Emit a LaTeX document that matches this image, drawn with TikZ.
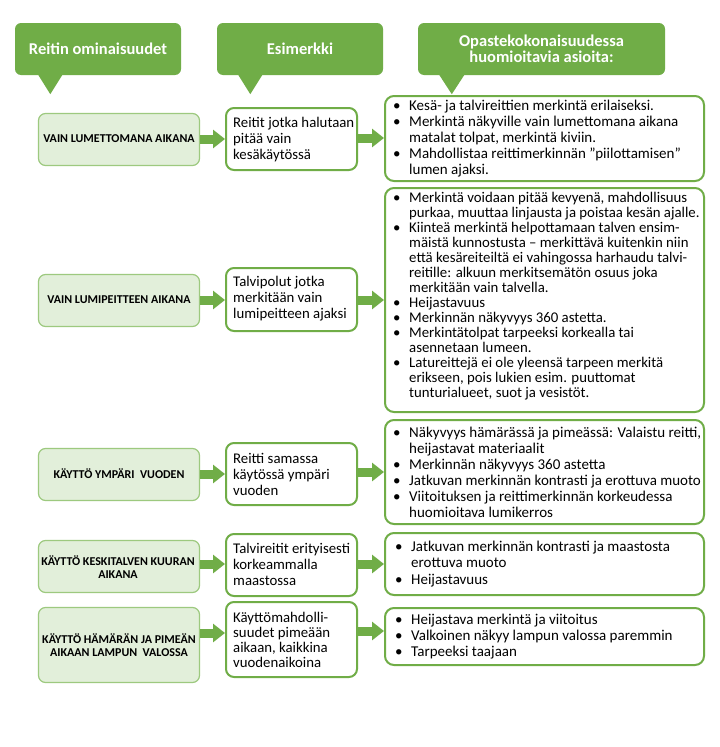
\documentclass[tikz,border=0pt]{standalone}
\usepackage{fontspec}
\setmainfont{Carlito}
\usetikzlibrary{arrows.meta}
\definecolor{hgreen}{HTML}{70AD47}
\definecolor{lfill}{HTML}{E2EFDA}
\definecolor{lborder}{HTML}{9DC97F}
\newcommand{\mybul}{\makebox[16pt][l]{\textbullet}}
\newcommand{\myind}{\hspace*{16pt}}
\begin{document}
\begin{tikzpicture}[x=1pt,y=-1pt,
  header/.style={rectangle, rounded corners=6pt, fill=hgreen, draw=none, text=white,
    font=\bfseries\fontsize{16.5}{16}\selectfont, align=center, inner sep=0pt, minimum height=52pt},
  pointer/.style={fill=hgreen},
  leftbox/.style={rectangle, rounded corners=7pt, fill=lfill, draw=lborder, line width=1.2pt,
    minimum width=161pt, inner sep=0pt},
  midbox/.style={rectangle, rounded corners=8pt, fill=white, draw=hgreen, line width=2pt,
    minimum width=131pt, inner sep=0pt},
  rightbox/.style={rectangle, rounded corners=9pt, fill=white, draw=hgreen, line width=2pt,
    minimum width=319pt, inner sep=0pt},
  lefttext/.style={font=\bfseries\fontsize{12}{12.5}\selectfont, align=center, inner sep=0pt},
  midtext/.style={font=\fontsize{14.8}{16}\selectfont, align=left, anchor=west, inner sep=0pt},
  bultext/.style={font=\fontsize{15}{16}\selectfont, align=left, anchor=west, inner sep=0pt},
  blockarrow/.style={draw=hgreen, line width=9pt, -{Triangle[length=12pt,width=18pt]}}
]
\fill[white] (0,0) rectangle (720,747);
\useasboundingbox (0,0) rectangle (720,747);

% headers
\node[header, minimum width=166pt] (h1) at (98,49) {Reitin ominaisuudet};
\node[header, minimum width=166pt] (h2) at (300,49) {Esimerkki};
\node[header, minimum width=247pt] (h3) at (541.5,49) {Opastekokonaisuudessa\\huomioitavia asioita:};
\fill[pointer] ([xshift=23pt,yshift=1pt]h1.south west) -- ++(25,0) -- ++(-12.5,20) -- cycle;
\fill[pointer] ([xshift=21pt,yshift=1pt]h2.south west) -- ++(25,0) -- ++(-12.5,20) -- cycle;
\fill[pointer] ([xshift=21pt,yshift=1pt]h3.south west) -- ++(26,0) -- ++(-13,20) -- cycle;

% left boxes
\node[leftbox, minimum height=52pt] (l1) at (119,139.5) {};
\node[leftbox, minimum height=52pt] (l2) at (119,300.5) {};
\node[leftbox, minimum height=52pt] (l3) at (119,474.5) {};
\node[leftbox, minimum height=52pt] (l4) at (119,566.5) {};
\node[leftbox, minimum height=75pt] (l5) at (119,645) {};
\node[lefttext] (lt1) at (119,139) {VAIN LUMETTOMANA AIKANA};
\node[lefttext] (lt2) at (119,300) {VAIN LUMIPEITTEEN AIKANA};
\node[lefttext] (lt3) at (119,474) {KÄYTTÖ YMPÄRI\ \ VUODEN};
\node[lefttext] (lt4) at (118,567) {KÄYTTÖ KESKITALVEN KUURAN\\AIKANA};
\node[lefttext] (lt5) at (119,645) {KÄYTTÖ HÄMÄRÄN JA PIMEÄN\\AIKAAN LAMPUN\ \ VALOSSA};

% middle boxes
\node[midbox, minimum height=62pt] (m1) at (291.5,139) {};
\node[midbox, minimum height=63pt] (m2) at (291.5,299.5) {};
\node[midbox, minimum height=62pt] (m3) at (291.5,474) {};
\node[midbox, minimum height=62pt] (m4) at (291.5,565) {};
\node[midbox, minimum height=75pt] (m5) at (291.5,639.5) {};
\node[midtext] (mt1) at (233,140) {Reitit jotka halutaan\\pitää vain\\kesäkäytössä};
\node[midtext] (mt2) at (233,299) {Talvipolut jotka\\merkitään vain\\lumipeitteen ajaksi};
\node[midtext] (mt3) at (233,474) {Reitti samassa\\käytössä ympäri\\vuoden};
\node[midtext] (mt4) at (233,564) {Talvireitit erityisesti\\korkeammalla\\maastossa};
\node[midtext, font=\fontsize{14.8}{15}\selectfont] (mt5) at (233,639.5) {Käyttömahdolli-\\suudet pimeään\\aikaan, kaikkina\\vuodenaikoina};

% right boxes
\node[rightbox, minimum height=85pt] (r1) at (544.5,138.5) {};
\node[rightbox, minimum height=224pt] (r2) at (544.5,300) {};
\node[rightbox, minimum height=104pt] (r3) at (544.5,472) {};
\node[rightbox, minimum height=62pt] (r4) at (544.5,564) {};
\node[rightbox, minimum height=57pt] (r5) at (544.5,636.5) {};

\node[bultext] (rt1) at (393,138.5) {\mybul Kesä- ja talvireittien merkintä erilaiseksi.\\
\mybul Merkintä näkyville vain lumettomana aikana\\
\myind matalat tolpat, merkintä kiviin.\\
\mybul Mahdollistaa reittimerkinnän ”piilottamisen”\\
\myind lumen ajaksi.};
\node[bultext, font=\fontsize{14.8}{15}\selectfont] (rt2) at (393,296.5) {\mybul Merkintä voidaan pitää kevyenä, mahdollisuus\\
\myind purkaa, muuttaa linjausta ja poistaa kesän ajalle.\\
\mybul Kiinteä merkintä helpottamaan talven ensim-\\
\myind mäistä kunnostusta – merkittävä kuitenkin niin\\
\myind että kesäreiteiltä ei vahingossa harhaudu talvi-\\
\myind reitille: alkuun merkitsemätön osuus joka\\
\myind merkitään vain talvella.\\
\mybul Heijastavuus\\
\mybul Merkinnän näkyvyys 360 astetta.\\
\mybul Merkintätolpat tarpeeksi korkealla tai\\
\myind asennetaan lumeen.\\
\mybul Latureittejä ei ole yleensä tarpeen merkitä\\
\myind erikseen, pois lukien esim. puuttomat\\
\myind tunturialueet, suot ja vesistöt.};
\node[bultext] (rt3) at (393,472) {\mybul Näkyvyys hämärässä ja pimeässä: Valaistu reitti,\\
\myind heijastavat materiaalit\\
\mybul Merkinnän näkyvyys 360 astetta\\
\mybul Jatkuvan merkinnän kontrasti ja erottuva muoto\\
\mybul Viitoituksen ja reittimerkinnän korkeudessa\\
\myind huomioitava lumikerros};
\node[bultext, font=\fontsize{15}{16.5}\selectfont] (rt4) at (395,564) {\mybul Jatkuvan merkinnän kontrasti ja maastosta\\
\myind erottuva muoto\\
\mybul Heijastavuus};
\node[bultext] (rt5) at (395,636.5) {\mybul Heijastava merkintä ja viitoitus\\
\mybul Valkoinen näkyy lampun valossa paremmin\\
\mybul Tarpeeksi taajaan};

% arrows
\coordinate (y1) at (0,139);
\coordinate (y2) at (0,300);
\coordinate (y3) at (0,474);
\coordinate (y4) at (0,564);
\coordinate (y5) at (0,633);
\coordinate (z1) at (0,138);
\coordinate (z2) at (0,300);
\coordinate (z3) at (0,472);
\coordinate (z4) at (0,564);
\coordinate (z5) at (0,631);
\foreach \i in {1,...,5}{
  \draw[blockarrow] (l\i.east |- y\i) -- (m\i.west |- y\i);
  \draw[blockarrow] (m\i.east |- z\i) -- (r\i.west |- z\i);
}
\end{tikzpicture}
\end{document}
